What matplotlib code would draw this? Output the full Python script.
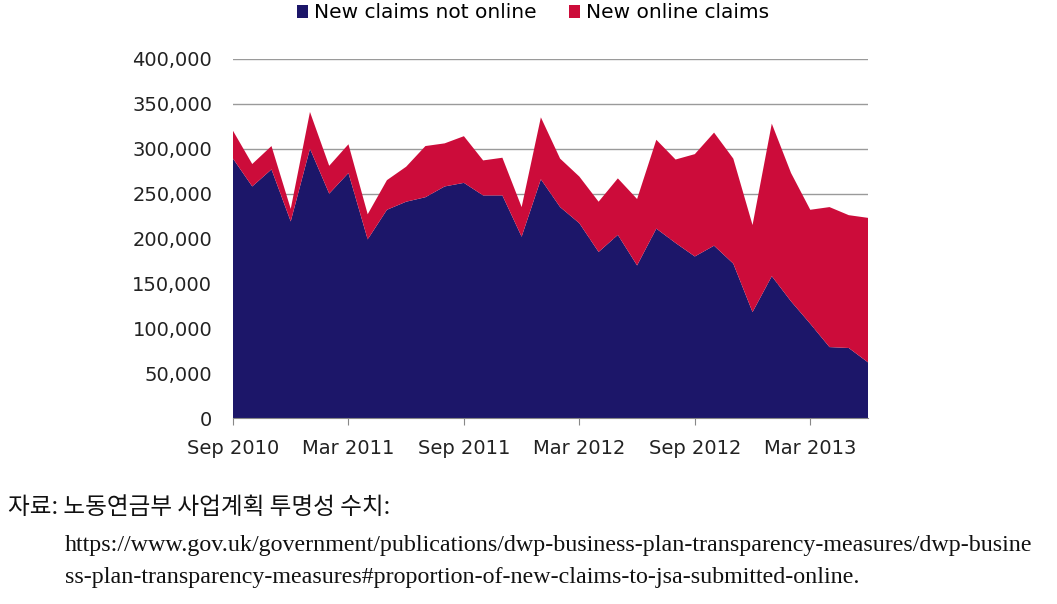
import matplotlib
matplotlib.use("Agg")
import matplotlib.pyplot as plt
import numpy as np

months = ["Sep 2010", "Oct 2010", "Nov 2010", "Dec 2010", "Jan 2011", "Feb 2011",
          "Mar 2011", "Apr 2011", "May 2011", "Jun 2011", "Jul 2011", "Aug 2011",
          "Sep 2011", "Oct 2011", "Nov 2011", "Dec 2011", "Jan 2012", "Feb 2012",
          "Mar 2012", "Apr 2012", "May 2012", "Jun 2012", "Jul 2012", "Aug 2012",
          "Sep 2012", "Oct 2012", "Nov 2012", "Dec 2012", "Jan 2013", "Feb 2013",
          "Mar 2013", "Apr 2013", "May 2013", "Jun 2013"]

not_online = [289000, 258000, 277000, 219000, 300000, 250000, 273000, 199000,
              232000, 241000, 246000, 258000, 262000, 248000, 248000, 202000,
              266000, 235000, 217000, 185000, 204000, 170000, 211000, 195000,
              180000, 192000, 172000, 118000, 158000, 130000, 105000, 79000,
              78000, 62000]

total = [320000, 283000, 303000, 233000, 341000, 281000, 305000, 227000,
         265000, 280000, 303000, 306000, 314000, 287000, 290000, 235000,
         335000, 289000, 269000, 241000, 267000, 244000, 310000, 288000,
         294000, 318000, 289000, 215000, 328000, 273000, 232000, 235000,
         226000, 223000]

online = [t - n for t, n in zip(total, not_online)]

series_labels = ["New claims not online", "New online claims"]
tick_labels = ["Sep 2010", "Mar 2011", "Sep 2011", "Mar 2012", "Sep 2012", "Mar 2013"]

navy = "#1c1669"
crimson = "#cc0c3a"

fig = plt.figure(figsize=(10.57, 6.04), dpi=100)
ax = fig.add_axes([233/1057, 1-418/604, (868-233)/1057, (418-59)/604])

x = np.arange(len(months))
ax.stackplot(x, not_online, online, colors=[navy, crimson], labels=series_labels,
             linewidth=0, zorder=2)

ax.set_xlim(0, len(months) - 1)
ax.set_ylim(0, 400000)
ax.set_yticks(np.arange(0, 400001, 50000))
ax.set_yticklabels([f"{v:,}" for v in range(0, 400001, 50000)], fontsize=14)
tick_pos = [months.index(t) for t in tick_labels]
ax.set_xticks(tick_pos)
ax.set_xticklabels(tick_labels, fontsize=14)
ax.tick_params(axis="y", length=0, pad=15, colors="#222222")
ax.tick_params(axis="x", length=5, pad=10, color="#888888", colors="#222222")
ax.grid(axis="y", color="#9a9a9a", linewidth=1.0, zorder=0)
ax.set_axisbelow(True)
for s in ["top", "right", "left"]:
    ax.spines[s].set_visible(False)
ax.spines["bottom"].set_color("#888888")

leg = fig.legend(loc="center", bbox_to_anchor=(533/1057, 1-13/604), ncol=2,
                 frameon=False, fontsize=14.5, handlelength=0.55, handleheight=0.65,
                 handletextpad=0.3, columnspacing=1.6)

fig.text(8/1057, 1-508/604, "자료: 노동연금부 사업계획 투명성 수치:",
         family=["Noto Sans CJK KR", "DejaVu Sans"], fontsize=17, va="center",
         color="#111111")
fig.text(65/1057, 1-545/604,
         "https://www.gov.uk/government/publications/dwp-business-plan-transparency-measures/dwp-busine",
         family="Liberation Serif", fontsize=17.3, va="center", color="#111111")
fig.text(65/1057, 1-578/604,
         "ss-plan-transparency-measures#proportion-of-new-claims-to-jsa-submitted-online.",
         family="Liberation Serif", fontsize=17.3, va="center", color="#111111")

fig.savefig("out.png", dpi=100)
